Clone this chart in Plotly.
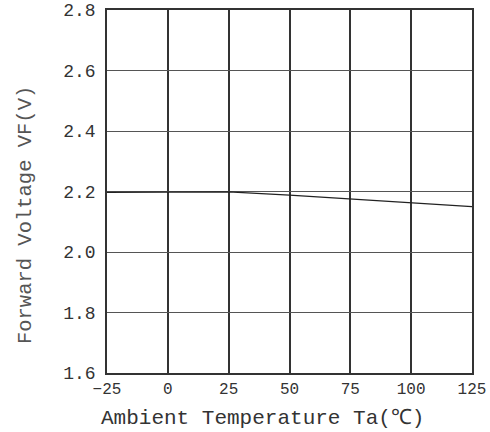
import plotly.graph_objects as go

temps = [-25, 0, 25, 50, 75, 100, 125]
vf = [2.197, 2.198, 2.199, 2.188, 2.175, 2.163, 2.150]
x_ticks = [-25, 0, 25, 50, 75, 100, 125]
y_ticks = [1.6, 1.8, 2.0, 2.2, 2.4, 2.6, 2.8]
y_tick_text = ["1.6", "1.8", "2.0", "2.2", "2.4", "2.6", "2.8"]
x_title = "Ambient Temperature Ta(℃)"
y_title = "Forward Voltage VF(V)"

font = "'Liberation Mono'"

fig = go.Figure()
fig.add_trace(go.Scatter(x=temps, y=vf, mode="lines",
                         line=dict(color="#222", width=1.3),
                         showlegend=False, hoverinfo="skip"))

fig.update_layout(
    width=490, height=432,
    margin=dict(l=107, r=18, t=10, b=59),
    paper_bgcolor="white", plot_bgcolor="white",
    font=dict(family=font, color="#333"),
    xaxis=dict(range=[-25, 125], tickvals=x_ticks, showgrid=True, automargin=False,
               gridcolor="#333", gridwidth=1.5, zeroline=False,
               showline=True, linecolor="#333", linewidth=1.5, mirror=True,
               ticks="", tickfont=dict(size=16, family=font, color="#333")),
    yaxis=dict(range=[1.6, 2.8], tickvals=y_ticks, ticktext=y_tick_text, automargin=False,
               showgrid=True, gridcolor="#555", gridwidth=1.3, zeroline=False,
               showline=True, linecolor="#333", linewidth=1.5, mirror=True,
               ticks="", tickfont=dict(size=18, family=font, color="#333"),
               ticklabelstandoff=6),
    annotations=[
        dict(text=x_title, xref="paper", yref="paper", x=0.4247, y=-0.124,
             xanchor="center", yanchor="middle", showarrow=False,
             font=dict(size=21, family=font, color="#333")),
        dict(text=y_title, xref="paper", yref="paper", x=-0.2247, y=0.435,
             xanchor="center", yanchor="middle", showarrow=False, textangle=-90,
             font=dict(size=20.5, family=font, color="#555")),
    ],
)

fig.write_html("out.html", config={"displayModeBar": False},
               post_script="document.body.style.margin='0';document.body.style.overflow='hidden';")
